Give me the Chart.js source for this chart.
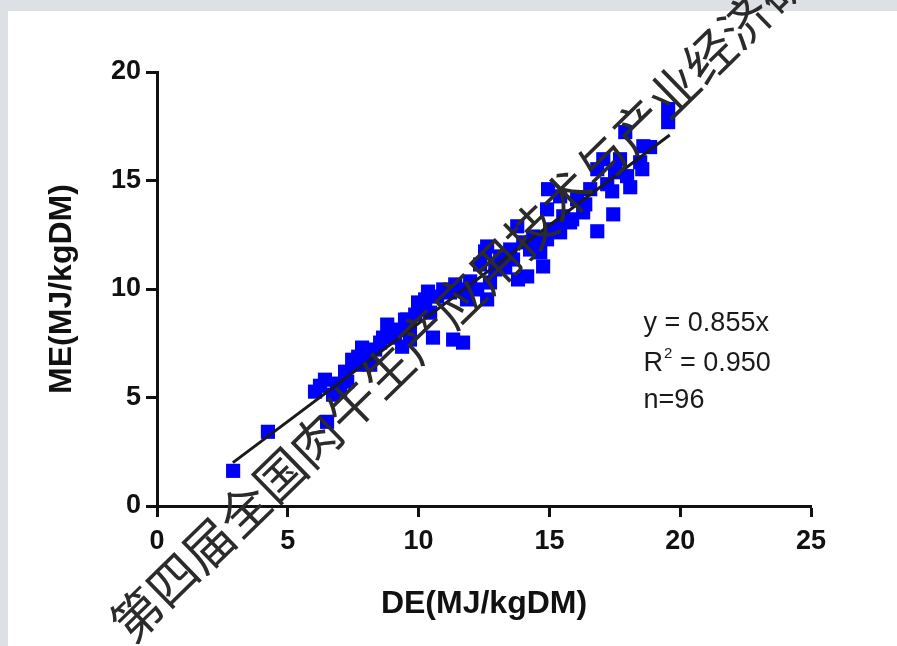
<!DOCTYPE html>
<html>
<head>
<meta charset="utf-8">
<script src="https://cdn.jsdelivr.net/npm/chart.js@4.4.1/dist/chart.umd.min.js"></script>
<style>
  html, body { margin: 0; padding: 0; background: #dde1e5; }
  #wrap { width: 897px; height: 646px; }
</style>
</head>
<body>
<div id="wrap"><canvas id="chart" width="897" height="646"></canvas></div>
<script>
// DE (x) and ME (y) per sample
const deX = [2.91, 4.24, 6.50, 6.04, 6.42, 6.88, 7.27, 6.73, 7.69, 8.03,
             8.15, 7.65, 8.53, 8.91, 9.37, 9.67, 8.80, 10.55, 11.32, 11.70,
             9.67, 10.06, 10.71, 9.56, 10.44, 10.94, 11.20, 11.85, 12.62, 12.73,
             12.24, 12.62, 13.12, 13.77, 13.80, 14.15, 14.38, 14.65, 15.03, 15.41,
             14.76, 15.87, 13.61, 14.00, 19.54, 19.54, 17.90, 18.59, 18.47, 17.97,
             18.09, 17.40, 17.44, 16.83, 16.83, 17.06, 17.51, 14.95, 15.41, 16.06,
             16.29, 15.79, 15.30, 14.91, 15.53, 14.91, 7.46, 7.84, 8.34, 8.64,
             9.10, 9.22, 9.48, 9.87, 9.98, 10.25, 10.36, 7.19, 6.23, 7.00,
             11.97, 12.35, 12.54, 12.93, 13.31, 13.50, 14.26, 14.46, 11.40, 11.66,
             16.37, 16.56, 17.70, 18.85, 18.55, 17.21];
const meY = [1.62, 3.42, 3.88, 5.27, 5.82, 5.64, 5.73, 5.13, 6.88, 7.11,
             6.51, 6.51, 7.53, 7.99, 7.34, 8.27, 8.36, 7.76, 7.67, 7.53,
             7.67, 9.19, 9.65, 8.59, 8.91, 9.98, 9.84, 9.52, 9.52, 10.30,
             9.98, 11.96, 11.50, 12.89, 10.44, 10.58, 12.42, 11.69, 12.75, 12.61,
             11.04, 13.21, 11.36, 12.15, 18.29, 17.69, 17.23, 16.58, 15.84, 15.20,
             14.69, 14.50, 13.44, 12.66, 15.52, 15.98, 15.38, 14.60, 14.27, 14.13,
             13.53, 13.07, 12.75, 12.29, 13.35, 13.67, 6.74, 7.30, 7.21, 7.76,
             7.76, 8.13, 8.59, 8.82, 9.38, 9.52, 9.88, 6.19, 5.54, 5.36,
             10.35, 11.13, 11.73, 10.90, 10.99, 11.82, 11.82, 12.29, 10.21, 9.98,
             13.90, 14.60, 15.98, 16.54, 15.52, 14.83];

// fitted line as drawn in the figure
const trendX = [2.9, 19.6];
const trendY = [2.0, 17.1];

const xTicks = [0, 5, 10, 15, 20, 25];
const yTicks = [0, 5, 10, 15, 20];

// equation box text
const annX = 18.6;
const annY = [8.4, 6.55, 4.85];
const annText = ['y = 0.855x', 'R', ' = 0.950', 'n=96'];

const watermark = '第四届全国肉牛生产应用技术与产业经济研讨会';

const points = deX.map((x, i) => ({ x: x, y: meY[i] }));
const trend = trendX.map((x, i) => ({ x: x, y: trendY[i] }));

const axisFont = 'Liberation Sans, Arial, sans-serif';

// grey page with a white sheet behind the plot
const sheetPlugin = {
    id: 'sheet',
    beforeDraw(chart) {
        const ctx = chart.ctx;
        ctx.save();
        ctx.fillStyle = '#dde1e5';
        ctx.fillRect(0, 0, chart.width, chart.height);
        ctx.fillStyle = '#ffffff';
        ctx.fillRect(8, 11, chart.width - 8, chart.height - 11);
        ctx.restore();
    }
};

// equation text and diagonal watermark
const textPlugin = {
    id: 'texts',
    afterDraw(chart) {
        const ctx = chart.ctx;
        const xs = chart.scales.x, ys = chart.scales.y;
        const left = xs.getPixelForValue(annX);
        ctx.save();
        ctx.fillStyle = '#1a1a1a';
        ctx.textBaseline = 'middle';
        ctx.textAlign = 'left';
        ctx.font = '27px ' + axisFont;
        ctx.fillText(annText[0], left, ys.getPixelForValue(annY[0]));
        let y2 = ys.getPixelForValue(annY[1]);
        ctx.fillText(annText[1], left, y2);
        let w = ctx.measureText(annText[1]).width;
        ctx.font = '15px ' + axisFont;
        ctx.fillText('2', left + w + 1, y2 - 10);
        let w2 = ctx.measureText('2').width;
        ctx.font = '27px ' + axisFont;
        ctx.fillText(annText[2], left + w + w2 + 1, y2);
        ctx.fillText(annText[3], left, ys.getPixelForValue(annY[2]));

        ctx.translate(119, 632);
        ctx.rotate(-44.3 * Math.PI / 180);
        ctx.fillStyle = '#2b2b2b';
        ctx.font = '50px "Noto Sans CJK SC", sans-serif';
        ctx.fillText(watermark, 0, 0);
        ctx.restore();
    }
};

const ctx = document.getElementById('chart').getContext('2d');
new Chart(ctx, {
    type: 'scatter',
    data: {
        datasets: [
            {
                type: 'line',
                data: trend,
                borderColor: '#1a1a1a',
                borderWidth: 3,
                pointRadius: 0,
                fill: false,
                order: 0
            },
            {
                data: points,
                pointStyle: 'rect',
                pointRadius: 10,
                pointBackgroundColor: '#0000ff',
                pointBorderWidth: 0,
                order: 1
            }
        ]
    },
    options: {
        responsive: false,
        animation: false,
        layout: { padding: { left: 18, top: 72, right: 86, bottom: 20 } },
        plugins: {
            legend: { display: false },
            tooltip: { enabled: false }
        },
        scales: {
            x: {
                type: 'linear',
                min: 0,
                max: 25,
                afterBuildTicks: s => { s.ticks = xTicks.map(v => ({ value: v })); },
                afterFit: s => { s.height = 120; },
                grid: { drawOnChartArea: false, tickLength: 11, tickWidth: 3, tickColor: '#111' },
                border: { color: '#111', width: 3 },
                ticks: { color: '#111', padding: 8, maxRotation: 0, font: { family: axisFont, size: 27, weight: 'bold' } },
                title: {
                    display: true,
                    text: 'DE(MJ/kgDM)',
                    color: '#111',
                    padding: { top: 0, bottom: 3 },
                    font: { family: axisFont, size: 32, weight: 'bold' }
                }
            },
            y: {
                type: 'linear',
                min: 0,
                max: 20,
                afterBuildTicks: s => { s.ticks = yTicks.map(v => ({ value: v })); },
                afterFit: s => { s.width = 139; },
                grid: { drawOnChartArea: false, tickLength: 11, tickWidth: 3, tickColor: '#111' },
                border: { color: '#111', width: 3 },
                ticks: { color: '#111', padding: 5, font: { family: axisFont, size: 27, weight: 'bold' } },
                title: {
                    display: true,
                    text: 'ME(MJ/kgDM)',
                    color: '#111',
                    padding: { top: 25, bottom: 0 },
                    font: { family: axisFont, size: 32, weight: 'bold' }
                }
            }
        }
    },
    plugins: [sheetPlugin, textPlugin]
});
</script>
</body>
</html>
